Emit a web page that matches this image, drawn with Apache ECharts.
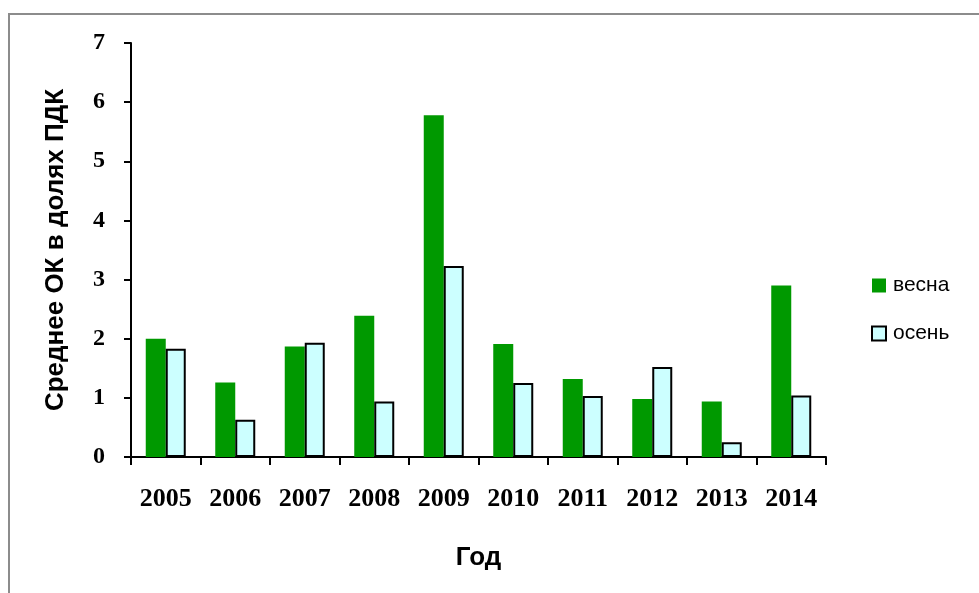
<!DOCTYPE html>
<html>
<head>
<meta charset="utf-8">
<script src="https://cdn.jsdelivr.net/npm/echarts@6/dist/echarts.min.js"></script>
<style>
  html, body { margin: 0; padding: 0; background: #fff; }
  #chart { width: 979px; height: 593px; }
</style>
</head>
<body>
<div id="chart"></div>
<script>
// Mean concentration (fractions of MAC), spring vs autumn
const years = ['2005', '2006', '2007', '2008', '2009', '2010', '2011', '2012', '2013', '2014'];
const spring = [2.0, 1.26, 1.87, 2.39, 5.78, 1.91, 1.32, 0.98, 0.94, 2.90];
const autumn = [1.83, 0.63, 1.93, 0.94, 3.23, 1.25, 1.03, 1.52, 0.25, 1.04];
const yTicks = [0, 1, 2, 3, 4, 5, 6, 7];

const chart = echarts.init(document.getElementById('chart'), null, { renderer: 'canvas' });

chart.setOption({
  animation: false,
  backgroundColor: '#ffffff',
  graphic: [{
    type: 'rect',
    shape: { x: 9, y: 14, width: 1000, height: 620 },
    style: { fill: 'none', stroke: '#8c8c8c', lineWidth: 2 },
    silent: true
  }],
  grid: { left: 131, right: 153, top: 43, bottom: 136 },
  legend: {
    orient: 'vertical',
    left: 866,
    top: 270,
    itemWidth: 14,
    itemHeight: 14,
    itemGap: 27,
    textStyle: { fontFamily: 'Liberation Sans, Arial, sans-serif', fontSize: 21, color: '#000', padding: [0, 0, 0, 2] },
    data: [
      { name: 'весна', icon: 'rect' },
      { name: 'осень', icon: 'rect' }
    ]
  },
  xAxis: {
    type: 'category',
    data: years,
    name: 'Год',
    nameLocation: 'middle',
    nameGap: 88,
    nameTextStyle: { fontFamily: 'Liberation Sans, Arial, sans-serif', fontWeight: 'bold', fontSize: 26, color: '#000' },
    axisLine: { lineStyle: { color: '#000', width: 2 } },
    axisTick: { show: true, interval: 0, length: 8, lineStyle: { color: '#000', width: 2 }, alignWithLabel: false },
    axisLabel: { interval: 0, hideOverlap: false, margin: 29, fontFamily: 'Liberation Serif, Times New Roman, serif', fontWeight: 'bold', fontSize: 26, color: '#000' },
    splitLine: { show: false }
  },
  yAxis: {
    type: 'value',
    min: yTicks[0],
    max: yTicks[yTicks.length - 1],
    interval: 1,
    name: 'Среднее ОК в долях ПДК',
    nameLocation: 'middle',
    nameGap: 62,
    nameTextStyle: { fontFamily: 'Liberation Sans, Arial, sans-serif', fontWeight: 'bold', fontSize: 26, color: '#000' },
    axisLine: { show: true, lineStyle: { color: '#000', width: 2 } },
    axisTick: { show: true, inside: false, length: 7, lineStyle: { color: '#000', width: 2 } },
    axisLabel: { margin: 26, fontFamily: 'Liberation Serif, Times New Roman, serif', fontWeight: 'bold', fontSize: 24, color: '#000' },
    splitLine: { show: false }
  },
  series: [
    {
      name: 'весна',
      type: 'bar',
      data: spring,
      barWidth: 20,
      barGap: '0%',
      itemStyle: { color: '#009900', borderWidth: 0 }
    },
    {
      name: 'осень',
      type: 'bar',
      data: autumn,
      barWidth: 20,
      barGap: '0%',
      itemStyle: { color: '#ccffff', borderColor: '#000', borderWidth: 2 }
    }
  ]
});
</script>
</body>
</html>
